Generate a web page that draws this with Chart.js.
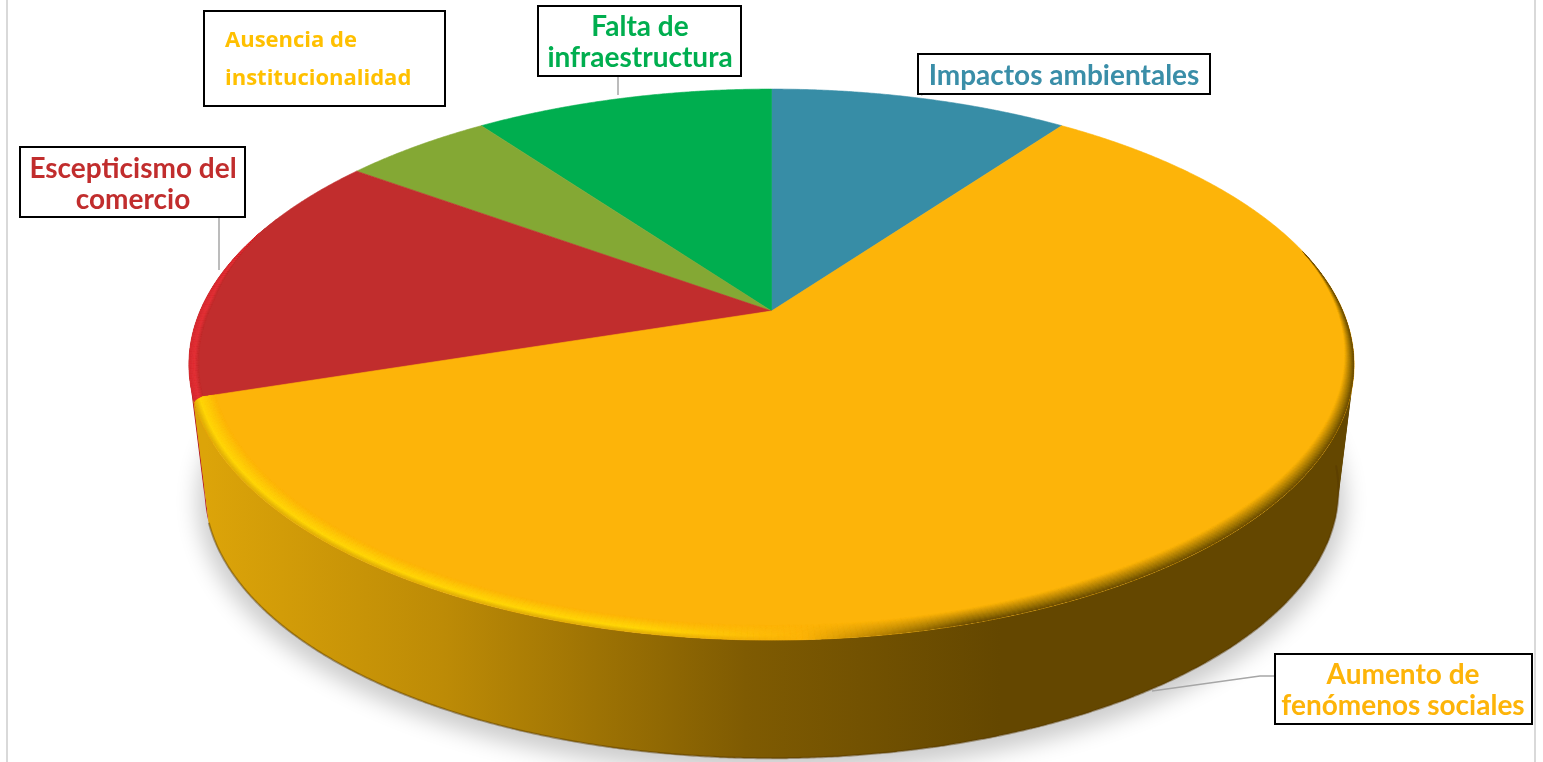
<!DOCTYPE html>
<html><head><meta charset="utf-8">
<style>html,body{margin:0;padding:0;background:#fff;overflow:hidden}canvas{display:block}</style>
<script src="https://cdn.jsdelivr.net/npm/chart.js@4"></script>
</head><body><canvas id="c" width="1543" height="762"></canvas>
<script>
const categories = ["Impactos ambientales","Aumento de fenómenos sociales","Escepticismo del comercio","Ausencia de institucionalidad","Falta de infraestructura"];
const values = [10,60,15,5,10];
const sliceColors = ["#378da6","#fdb409","#c12d2d","#84a834","#00ae4f"];
const labelLines = [["Impactos ambientales"],["Aumento de","fenómenos sociales"],["Escepticismo del","comercio"],["Ausencia de","institucionalidad"],["Falta de","infraestructura"]];
const labelColors = ["#3a8ea8","#fdb409","#c12d2d","#ffc000","#00ae4f"];
const boxes = [
 {x:918,y:54,w:292,h:40,ys:[76],cx:1064},
 {x:1275,y:654,w:257,h:70,ys:[675,706],cx:1403},
 {x:20,y:147,w:225,h:70,ys:[169,200],cx:133},
 {x:204,y:11,w:241,h:95,ys:[41,79],left:225,small:true},
 {x:538,y:6,w:203,h:70,ys:[27,58],cx:640}
];
const leaders = [[[921,95],[926,93]],[[1275,676],[1260,676],[1152,691]],[[219,218],[219,270]],[],[[618,76],[618,95]]];

// Perspective of the tilted disc
const K=.1945, A=265.1, B=571.5;
const LOW={s:.973,dy:127};
function proj(el,a,r,lvl){ // a = clockwise angle from top, r = radial fraction
  const X=r*Math.sin(a),Y=r*Math.cos(a),d=1+K*Y;
  const s=lvl?LOW.s:1, oy=lvl?LOW.dy:0;
  return [el.x+s*B*X/d, el.y+oy-s*A*Y/d];
}
const ang=v=>v+Math.PI/2, deg=Math.PI/180;
const hex=h=>[1,3,5].map(i=>parseInt(h.substr(i,2),16));
const mix=(a,b,t)=>a.map((v,i)=>v+(b[i]-v)*t);
const css=c=>`rgb(${c.map(Math.round).join(',')})`;
function rimPath(ctx,el,a0,a1,r,lvl,first){
  const n=Math.max(2,Math.ceil(Math.abs(a1-a0)/(.25*deg)));
  for(let i=0;i<=n;i++){const p=proj(el,a0+(a1-a0)*i/n,r,lvl);(i||!first)?ctx.lineTo(p[0],p[1]):ctx.moveTo(p[0],p[1]);}
}
function facePath(ctx,el,a0,a1){ctx.beginPath();ctx.moveTo(el.x,el.y);rimPath(ctx,el,a0,a1,1,0,false);ctx.closePath();}
function fillSide(ctx,el,a0,a1,style){
  // the side wall: rim-to-rim band plus the silhouette wedge beside it
  ctx.fillStyle=style;
  const band=(p,q)=>{ctx.beginPath();rimPath(ctx,el,p,q,1,0,true);rimPath(ctx,el,q,p,1,1,false);ctx.closePath();ctx.fill();};
  const step=6*deg;
  for(let a=a0;a<a1;a+=step*.75) band(a,Math.min(a+step,a1));
}
function profile(stops,t){for(let i=1;i<stops.length;i++){if(t<=stops[i][0]){const u=(t-stops[i-1][0])/(stops[i][0]-stops[i-1][0]);return mix(stops[i-1][1],stops[i][1],u);}}return stops[stops.length-1][1];}
function bevel(ctx,el,a0,a1,width,colorAt){
  const levels=16,step=.5*deg;
  for(let a=a0;a<a1;a+=step){
    for(let l=levels-1;l>=0;l--){
      const t=(l+.5)/levels, w=width(a);
      if(w<=0) continue;
      const r0=1-w*l/levels,r1=1-w*(l+1)/levels;
      const p=[proj(el,a,r0,0),proj(el,a+step*1.25,r0,0),proj(el,a+step*1.25,r1,0),proj(el,a,r1,0)];
      const col=css(colorAt(t,p[0][0],a));
      ctx.fillStyle=col;ctx.strokeStyle=col;ctx.lineWidth=.6;
      ctx.beginPath();p.forEach((q,i)=>i?ctx.lineTo(q[0],q[1]):ctx.moveTo(q[0],q[1]));ctx.closePath();ctx.fill();ctx.stroke();
    }
  }
}
const pie3d={id:'pie3d',
 beforeDatasetDraw(){return false;},
 afterDatasetsDraw(chart){
  const ctx=chart.ctx, arcs=chart.getDatasetMeta(0).data, el=arcs[0];
  const span=arcs.map(e=>[ang(e.startAngle),ang(e.endAngle)]);
  const Y=1,R=2;
  // frame lines
  ctx.save();ctx.fillStyle='#d9d9d9';ctx.fillRect(6,0,2,762);ctx.fillRect(1534,0,2,762);ctx.restore();
  // soft shadow, painted from an off-canvas shape so only the blur lands
  ctx.save();ctx.shadowColor='rgba(0,0,0,.2)';ctx.shadowBlur=22;ctx.shadowOffsetX=3000;ctx.shadowOffsetY=10;ctx.fillStyle='#000';
  ctx.translate(-3000,0);ctx.beginPath();rimPath(ctx,el,25*deg,335*deg,1.012,1,true);ctx.closePath();ctx.fill();ctx.restore();
  // sides (only the part that can show below the top face)
  fillSide(ctx,el,span[R][0],span[R][0]+40*deg,'#b8262c');
  const g=ctx.createLinearGradient(205,0,1000,0);
  g.addColorStop(0,'#dca409');g.addColorStop(.3,'#bd8b06');g.addColorStop(.68,'#7f5b02');g.addColorStop(1,'#644700');
  fillSide(ctx,el,span[Y][0]+48*deg,span[Y][1],g);
  ctx.beginPath();rimPath(ctx,el,span[Y][0]+60*deg,span[Y][1],1,1,true);ctx.strokeStyle='rgba(85,55,0,.45)';ctx.lineWidth=2;ctx.stroke();
  // top faces
  [0,4,3,2].forEach(i=>{ctx.fillStyle=sliceColors[i];ctx.strokeStyle=sliceColors[i];ctx.lineWidth=.6;const ext=i===2?-2*deg:0;facePath(ctx,el,span[i][0]+ext,span[i][1]);ctx.fill();ctx.stroke();});
  // red rim glow
  ctx.save();facePath(ctx,el,span[R][0]-2*deg,span[R][1]);ctx.clip();
  const baseR=hex(sliceColors[R]);
  bevel(ctx,el,span[R][0]-2*deg,span[R][1]-18*deg,a=>.016*Math.min(1,(span[R][1]-18*deg-a)/(16*deg)),
    (t)=>profile([[0,[215,45,50]],[.55,[228,50,56]],[1,baseR]],t));
  ctx.restore();
  // yellow face with rounded corner
  const yA0=span[Y][0],yA1=span[Y][1];
  const tip=proj(el,yA1,.985,0),sharp=proj(el,yA1,1.005,0);
  const yPath=()=>{ctx.beginPath();ctx.moveTo(el.x,el.y);rimPath(ctx,el,yA0,yA1-1.2*deg,1,0,false);ctx.quadraticCurveTo(sharp[0]+3,sharp[1]+2,tip[0],tip[1]);ctx.closePath();};
  ctx.fillStyle=sliceColors[Y];ctx.strokeStyle=sliceColors[Y];ctx.lineWidth=.6;yPath();ctx.fill();ctx.stroke();
  ctx.save();yPath();ctx.clip();
  const base=hex(sliceColors[Y]);
  const lit=[[0,hex('#e0ae0a')],[.28,hex('#ffd608')],[.42,hex('#ffd208')],[1,base]];
  const dark=[[0,hex('#6a4b00')],[.25,hex('#8f6a04')],[1,base]];
  const bStart=yA0+40*deg;
  bevel(ctx,el,bStart,yA1,a=>{const f=Math.min(1,(a-bStart)/(75*deg));return .036*f*(2-f)*.5+.018*f;},
    (t,x)=>{const m=Math.min(1,Math.max(0,(x-640)/330));
      const c1=profile(lit,t),c2=profile(dark,t);
      return m<.5?mix(c1,base,m*2):mix(base,c2,(m-.5)*2);});
  ctx.restore();
  // leaders and labels
  ctx.strokeStyle='#a6a6a6';ctx.lineWidth=1.5;
  leaders.forEach(l=>{if(!l.length)return;ctx.beginPath();l.forEach((p,i)=>i?ctx.lineTo(p[0],p[1]):ctx.moveTo(p[0],p[1]));ctx.stroke();});
  boxes.forEach((b,i)=>{
    ctx.fillStyle='#fff';ctx.fillRect(b.x,b.y,b.w,b.h);
    ctx.strokeStyle='#000';ctx.lineWidth=2;ctx.strokeRect(b.x,b.y,b.w,b.h);
    ctx.fillStyle=labelColors[i];ctx.textBaseline='middle';
    ctx.font=b.small?'bold 22px "Open Sans"':'bold 28px Lato';
    ctx.textAlign=b.small?'left':'center';
    labelLines[i].forEach((t,j)=>ctx.fillText(t,b.small?b.left:b.cx,b.ys[j]));
  });
 }};
new Chart(document.getElementById('c'),{
 type:'pie',
 data:{labels:categories,datasets:[{data:values,backgroundColor:sliceColors,borderWidth:0}]},
 options:{responsive:false,animation:false,devicePixelRatio:1,layout:{padding:{bottom:140}},
  plugins:{legend:{display:false},tooltip:{enabled:false},title:{display:false}}},
 plugins:[pie3d]
});
</script></body></html>
